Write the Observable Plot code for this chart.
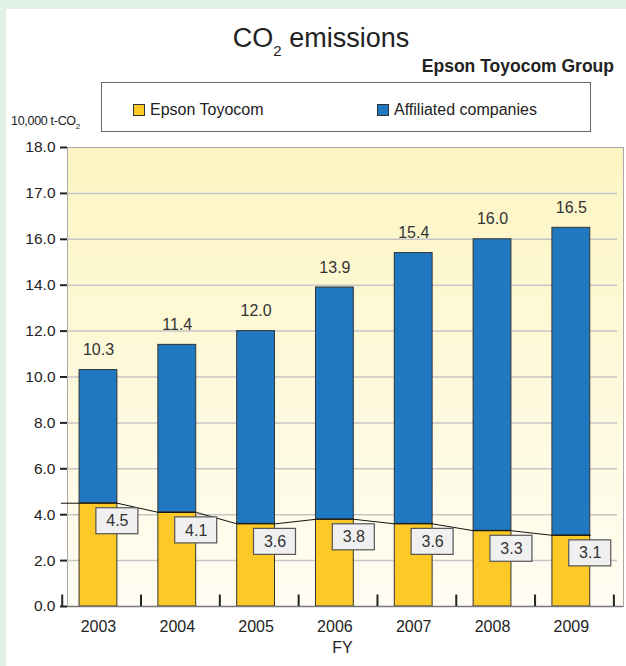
<!DOCTYPE html>
<html><head><meta charset="utf-8">
<script src="https://cdn.jsdelivr.net/npm/d3@7"></script>
<script src="https://cdn.jsdelivr.net/npm/@observablehq/plot@0.6"></script>
<style>
body{margin:0;background:#e2f1e7;font-family:"Liberation Sans",Arial,Helvetica,sans-serif;}
#wrap{position:relative;width:626px;height:666px;overflow:hidden;}
#panel{position:absolute;left:6px;top:9px;right:0;bottom:0;background:#fff;}
#chart{position:absolute;left:0;top:0;}
.t{position:absolute;white-space:nowrap;color:#222;line-height:1;}
.sw{position:absolute;width:10px;height:10px;border:1px solid #333;}
</style></head><body>
<div id="wrap">
  <div id="panel"></div>
  <div id="chart"></div>
  <div class="t" style="left:0;width:642px;text-align:center;top:25px;font-size:27px;">CO<span style="font-size:15px;position:relative;top:9px;">2</span> emissions</div>
  <div class="t" style="right:12px;top:58px;font-size:17.5px;font-weight:bold;">Epson Toyocom Group</div>
  <div style="position:absolute;left:101px;top:82px;width:488px;height:48px;border:1.3px solid #666;background:#fff;"></div>
  <div class="sw" id="sw0" style="left:133px;top:104px;"></div>
  <div class="t" id="lg0" style="left:150px;top:102px;font-size:16px;"></div>
  <div class="sw" id="sw1" style="left:377px;top:104px;"></div>
  <div class="t" id="lg1" style="left:394px;top:102px;font-size:16px;"></div>
  <div class="t" style="left:11px;top:115px;font-size:12.5px;letter-spacing:-0.3px;">10,000 t-CO<span style="font-size:8px;position:relative;top:4px;">2</span></div>
</div>
<script>
// ---- data ----
const years = [2003, 2004, 2005, 2006, 2007, 2008, 2009];
const totals = [10.3, 11.4, 12.0, 13.9, 15.4, 16.0, 16.5];
const epson = [4.5, 4.1, 3.6, 3.8, 3.6, 3.3, 3.1];
const seriesNames = ["Epson Toyocom", "Affiliated companies"];
const seriesColors = ["#fcc926", "#1f78c0"];
const yTicks = [0, 2, 4, 6, 8, 10, 12, 14, 16, 18, 20];
const yTickLabels = ["0.0", "2.0", "4.0", "6.0", "8.0", "10.0", "12.0", "14.0", "16.0", "17.0", "18.0"];
const xLabel = "FY";

// legend
document.getElementById("lg0").textContent = seriesNames[0];
document.getElementById("lg1").textContent = seriesNames[1];
document.getElementById("sw0").style.background = seriesColors[0];
document.getElementById("sw1").style.background = seriesColors[1];

const rows = years.map((y, i) => ({year: y, epson: epson[i], total: totals[i]}));
const hw = 0.24; // half bar width (in band units)
const linePts = [{x: years[0] - 0.47, y: epson[0]}].concat(
  rows.flatMap(d => [{x: d.year - hw, y: d.epson}, {x: d.year + hw, y: d.epson}])
);
const boundaries = [years[0] - 1, ...years].map(y => y + 0.54);

const chart = Plot.plot({
  width: 626,
  height: 666,
  marginLeft: 67,
  marginRight: 3,
  marginTop: 147,
  marginBottom: 60,
  style: {background: "transparent", fontFamily: "Liberation Sans, Arial, sans-serif", fontSize: "15px", color: "#222"},
  x: {domain: [2002.607, 2009.662]},
  y: {domain: [0, 20]},
  marks: [
    Plot.frame({fill: "url(#bgGrad)", stroke: "#aaa", strokeWidth: 1}),
    Plot.ruleY(yTicks.filter(t => t > 0 && t < 20), {stroke: "#c6c6c6", strokeWidth: 1.5, insetRight: 6}),
    Plot.rectY(rows, {x1: d => d.year - hw, x2: d => d.year + hw, y1: 0, y2: "epson", fill: seriesColors[0], stroke: "#333", strokeWidth: 1}),
    Plot.rectY(rows, {x1: d => d.year - hw, x2: d => d.year + hw, y1: "epson", y2: "total", fill: seriesColors[1], stroke: "#333", strokeWidth: 1}),
    Plot.line(linePts, {x: "x", y: "y", stroke: "#111", strokeWidth: 1}),
    Plot.rect(rows, {x1: d => d.year + hw, x2: d => d.year + hw, y1: "epson", y2: "epson",
      insetLeft: -21, insetRight: -21, insetTop: 5, insetBottom: -31, fill: "#f0f0f0", stroke: "#555", strokeWidth: 1.2}),
    Plot.text(rows, {x: d => d.year + hw, y: "epson", text: d => d.epson.toFixed(1), dy: 18, fontSize: 16, fill: "#333"}),
    Plot.text(rows, {x: "year", y: "total", text: d => d.total.toFixed(1), dy: -20, fontSize: 16, fill: "#333"}),
    Plot.axisY({ticks: yTicks, tickFormat: d => yTickLabels[yTicks.indexOf(d)], tickSize: 7, tickPadding: 5, strokeWidth: 2, color: "#222", fontSize: 15.5, label: null}),
    Plot.axisX({ticks: years, tickFormat: d => String(d), tickSize: 0, tickPadding: 14, color: "#222", fontSize: 16, label: null}),
    Plot.ruleY([0], {stroke: "#777", strokeWidth: 1.5}),
    Plot.ruleX(boundaries, {y1: 0, y2: 0.5, stroke: "#222", strokeWidth: 2}),
    Plot.text([xLabel], {frameAnchor: "bottom", dy: 46, dx: -3, fontSize: 16, fill: "#222"})
  ]
});

// gradient background for plot area
const ns = "http://www.w3.org/2000/svg";
const defs = document.createElementNS(ns, "defs");
defs.innerHTML = '<linearGradient id="bgGrad" x1="0" y1="0" x2="0" y2="1">' +
  '<stop offset="0" stop-color="#fdf5c3"/><stop offset="1" stop-color="#fffdf3"/></linearGradient>';
chart.insertBefore(defs, chart.firstChild);
document.getElementById("chart").appendChild(chart);
</script>
</body></html>
